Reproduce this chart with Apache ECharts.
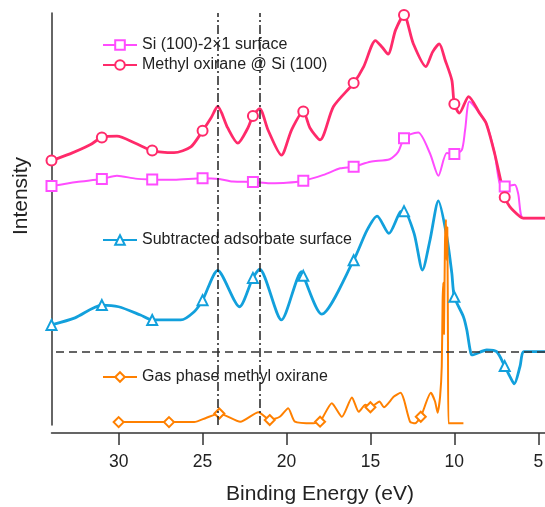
<!DOCTYPE html>
<html>
<head>
<meta charset="utf-8">
<script src="https://cdn.jsdelivr.net/npm/echarts@6/dist/echarts.min.js"></script>
<style>
  html, body { margin: 0; background: #fff; }
  #chart { width: 545px; height: 507px; }
</style>
</head>
<body>
<div id="chart"></div>
<script>
// binding energy (eV), intensity (arb. units, 0-100)
const siSurface = [
  [34.0, 58.0], [32.5, 59.0], [31.0, 59.7], [30.1, 60.5], [29.0, 59.8], [28.0, 59.6],
  [26.7, 59.5], [25.0, 59.9], [24.0, 59.7], [23.2, 59.1], [22.0, 59.0], [21.0, 58.7],
  [20.0, 58.8], [19.0, 59.3], [17.8, 60.7], [16.8, 62.3], [16.0, 62.7], [15.0, 63.9],
  [13.85, 64.5], [13.35, 66.3], [13.0, 69.6], [12.6, 70.6], [12.15, 71.0], [11.45, 65.9],
  [10.95, 60.5], [10.45, 66.0], [10.0, 65.8], [9.56, 66.7], [9.36, 71.6], [9.1, 78.5],
  [8.5, 75.7], [8.1, 73.2], [7.6, 65.9], [7.3, 58.7], [7.0, 57.9], [6.4, 58.3],
  [6.2, 56.2], [5.9, 50.2], [4.6, 50.2]
];
const methylOnSi = [
  [34.0, 64.2], [32.9, 65.8], [31.7, 68.0], [31.0, 69.8], [30.1, 70.1], [29.0, 68.4],
  [28.0, 66.6], [26.7, 66.1], [25.7, 67.5], [25.0, 71.4], [24.5, 74.5], [24.1, 77.3],
  [23.5, 72.1], [22.9, 68.4], [22.3, 72.1], [22.0, 75.0], [21.6, 76.8], [21.1, 71.6],
  [20.3, 65.5], [19.7, 71.6], [19.0, 76.1], [18.6, 72.1], [18.0, 69.2], [17.2, 77.3],
  [16.0, 83.0], [15.4, 87.0], [14.7, 93.3], [14.3, 91.7], [13.95, 90.0], [13.5, 95.9],
  [13.0, 99.5], [12.45, 92.6], [11.7, 87.0], [11.3, 90.5], [10.9, 92.5], [10.55, 88.6],
  [10.15, 83.7], [10.0, 77.9], [9.7, 75.7], [9.15, 79.7], [8.5, 75.7], [8.1, 73.2],
  [7.6, 65.9], [7.0, 55.3], [6.7, 53.0], [6.1, 50.6], [5.9, 50.2], [4.6, 50.2]
];
const subtracted = [
  [34.0, 24.3], [32.6, 26.0], [31.0, 29.1], [30.0, 28.7], [28.7, 26.7], [28.0, 25.5],
  [26.3, 25.5], [25.5, 27.5], [25.0, 30.3], [24.1, 37.5], [22.8, 28.7], [22.0, 35.7],
  [21.6, 37.8], [20.3, 25.5], [19.1, 37.2], [19.0, 36.2], [17.9, 26.9], [16.0, 40.0],
  [15.2, 47.3], [14.6, 50.7], [13.9, 46.5], [13.2, 51.8], [13.0, 51.9], [12.4, 46.5],
  [11.9, 37.6], [11.45, 44.9], [10.95, 54.4], [10.45, 45.7], [10.15, 36.8], [10.0, 31.1],
  [9.46, 26.3], [9.26, 23.1], [9.06, 18.2], [8.96, 17.0], [8.07, 18.2], [7.48, 17.8],
  [7.0, 14.3], [6.68, 11.7], [6.43, 10.0], [6.09, 14.2], [5.85, 17.8], [4.6, 17.8]
];
const gasPhase = [
  [30.0, 0.7], [27.0, 0.7], [25.5, 0.7], [24.8, 1.7], [24.0, 2.8], [22.75, 0.8],
  [21.67, 3.1], [21.0, 1.2], [20.4, 2.0], [19.9, 4.05], [19.5, 0.8], [18.4, 0.4],
  [18.0, 0.8], [17.3, 5.3], [16.7, 2.0], [16.1, 6.7], [15.7, 3.2], [15.3, 4.9],
  [15.0, 4.3], [14.46, 5.7], [14.2, 4.3], [13.6, 6.9], [13.2, 7.8], [13.0, 6.1],
  [12.64, 0.8], [12.34, 0.4], [12.0, 2.0], [11.4, 7.8], [11.15, 5.7], [11.0, 3.0],
  [10.85, 6.9], [10.75, 14.3], [10.7, 30.0], [10.66, 34.5], [10.62, 22.0], [10.56, 44.0],
  [10.5, 49.8], [10.46, 40.0], [10.42, 48.0], [10.38, 20.0], [10.35, 0.4], [9.46, 0.4]
];
// energies where the hollow markers sit
const surfaceMarkerE = [34, 31, 28, 25, 22, 19, 16, 13, 10, 7];
const gasMarkerE = [30, 27, 24, 21, 18, 15, 12];
const guideE = [24.1, 21.6];
const zeroLevel = 17.8;
const tickValues = [5, 10, 15, 20, 25, 30];

const names = [
  'Si (100)-2×1 surface',
  'Methyl oxirane @ Si (100)',
  'Subtracted adsorbate surface',
  'Gas phase methyl oxirane'
];

const FONT = '"Liberation Sans", Arial, Helvetica, sans-serif';
const chart = echarts.init(document.getElementById('chart'));

function mk(name, pts, marks, symbol, color, width, smooth) {
  return {
    name: name,
    type: 'line',
    smooth: smooth,
    symbol: symbol,
    symbolSize: 10,
    showAllSymbol: true,
    silent: true,
    lineStyle: { color: color, width: width },
    itemStyle: { color: color },
    emphasis: { disabled: true },
    data: pts.map((p) => (marks.indexOf(p[0]) >= 0 ? { value: p } : { value: p, symbol: 'none' }))
  };
}

const series = [
  mk(names[0], siSurface, surfaceMarkerE, 'emptyRect', '#ff4cff', 2, 0.25),
  mk(names[1], methylOnSi, surfaceMarkerE, 'emptyCircle', '#ff2a6a', 2.8, 0.25),
  mk(names[2], subtracted, surfaceMarkerE, 'emptyTriangle', '#12a0dc', 2.8, 0.25),
  mk(names[3], gasPhase, gasMarkerE, 'emptyDiamond', '#ff8000', 2, 0.2)
];
series[2].markLine = {
  silent: true,
  symbol: ['none', 'none'],
  label: { show: false },
  animation: false,
  data: guideE
    .map((e) => ({ xAxis: e, lineStyle: { type: [9, 3, 2, 3], color: '#222', width: 1.5 } }))
    .concat([{ yAxis: zeroLevel, lineStyle: { type: [8, 5], color: '#333', width: 1.5 } }])
};

const legendTops = [37, 57, 232, 369];

chart.setOption({
  animation: false,
  textStyle: { fontFamily: FONT },
  grid: { left: 51.5, right: 0, top: 13, bottom: 82, containLabel: false, outerBoundsMode: 'none' },
  legend: names.map((n, i) => ({
    data: [n],
    left: 102,
    top: legendTops[i],
    padding: 0,
    itemWidth: 34,
    itemHeight: 12,
    selectedMode: false,
    textStyle: { fontSize: 16, color: '#222', fontFamily: FONT }
  })),
  xAxis: {
    type: 'value',
    inverse: true,
    min: 4.6,
    max: 34,
    offset: 8,
    axisLine: { onZero: false, lineStyle: { color: '#333', width: 1.5 } },
    axisTick: { length: 12, customValues: tickValues, lineStyle: { color: '#333', width: 1.5 } },
    axisLabel: { customValues: tickValues, fontSize: 17.5, color: '#222', margin: 20 },
    splitLine: { show: false }
  },
  yAxis: {
    type: 'value',
    min: 0,
    max: 100,
    axisLine: { show: true, onZero: false, lineStyle: { color: '#333', width: 1.5 } },
    axisTick: { show: false },
    axisLabel: { show: false },
    splitLine: { show: false }
  },
  graphic: [
    {
      type: 'text', x: 320, y: 494, silent: true,
      style: { text: 'Binding Energy (eV)', font: '21px ' + FONT, fill: '#222', textAlign: 'center', textVerticalAlign: 'middle' }
    },
    {
      type: 'text', x: 21, y: 196, rotation: Math.PI / 2, silent: true,
      style: { text: 'Intensity', font: '21px ' + FONT, fill: '#222', textAlign: 'center', textVerticalAlign: 'middle' }
    }
  ],
  series: series
});
</script>
</body>
</html>
